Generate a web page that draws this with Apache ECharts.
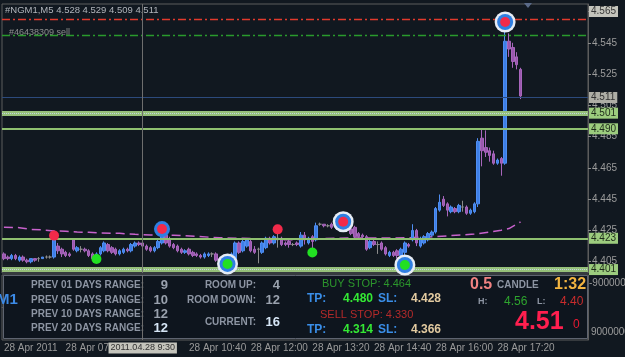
<!DOCTYPE html>
<html>
<head>
<meta charset="utf-8">
<script src="https://cdn.jsdelivr.net/npm/echarts@6/dist/echarts.min.js"></script>
<style>
html,body{margin:0;padding:0;background:#111820;}
#container{width:625px;height:357px;}
</style>
</head>
<body>
<div id="container"></div>
<script>
// NGM1 M5 bars: [open, close, low, high]
var candles = [
  [4.410,4.407,4.406,4.411],[4.408,4.407,4.406,4.409],[4.407,4.409,4.406,4.410],[4.409,4.407,4.406,4.410],
  [4.406,4.408,4.405,4.409],[4.408,4.406,4.405,4.409],[4.406,4.405,4.404,4.407],[4.405,4.407,4.404,4.407],
  [4.407,4.406,4.405,4.407],[4.407,4.407,4.405,4.408],[4.407,4.408,4.407,4.408],[4.408,4.408,4.407,4.409],
  [4.408,4.408,4.407,4.409],[4.408,4.421,4.407,4.423],[4.415,4.412,4.410,4.417],[4.413,4.410,4.408,4.414],
  [4.411,4.409,4.408,4.412],[4.410,4.409,4.408,4.411],[4.419,4.413,4.412,4.420],[4.412,4.414,4.411,4.415],
  [4.413,4.413,4.411,4.415],[4.413,4.412,4.411,4.414],[4.412,4.409,4.408,4.413],[4.410,4.407,4.406,4.411],
  [4.407,4.410,4.407,4.411],[4.410,4.414,4.409,4.415],[4.412,4.417,4.411,4.418],[4.416,4.412,4.411,4.417],
  [4.414,4.411,4.410,4.415],[4.413,4.410,4.409,4.414],[4.410,4.412,4.409,4.413],[4.411,4.413,4.410,4.414],
  [4.413,4.412,4.411,4.414],[4.412,4.416,4.411,4.417],[4.415,4.417,4.414,4.418],[4.417,4.416,4.415,4.418],
  [4.417,4.415,4.414,4.418],[4.415,4.413,4.412,4.416],[4.414,4.412,4.411,4.415],[4.412,4.414,4.411,4.415],
  [4.414,4.418,4.413,4.419],[4.417,4.424,4.416,4.426],[4.422,4.417,4.416,4.424],[4.419,4.415,4.414,4.421],
  [4.416,4.414,4.413,4.417],[4.415,4.412,4.411,4.416],[4.413,4.411,4.410,4.414],[4.411,4.412,4.410,4.413],
  [4.413,4.410,4.409,4.414],[4.411,4.409,4.408,4.412],[4.410,4.409,4.408,4.411],[4.409,4.408,4.407,4.410],
  [4.408,4.410,4.407,4.411],[4.409,4.410,4.408,4.411],[4.410,4.410,4.408,4.411],[4.410,4.406,4.405,4.411],
  [4.407,4.405,4.404,4.408],[4.405,4.407,4.404,4.408],[4.405,4.408,4.404,4.409],[4.407,4.410,4.406,4.411],
  [4.406,4.417,4.405,4.418],[4.417,4.411,4.410,4.418],[4.412,4.418,4.411,4.419],[4.415,4.419,4.414,4.420],
  [4.418,4.412,4.411,4.419],[4.413,4.411,4.410,4.415],[4.413,4.413,4.404,4.414],[4.411,4.417,4.410,4.418],
  [4.414,4.420,4.413,4.421],[4.420,4.417,4.416,4.421],[4.417,4.421,4.416,4.422],[4.420,4.420,4.414,4.424],
  [4.420,4.416,4.415,4.421],[4.417,4.416,4.415,4.418],[4.418,4.416,4.414,4.419],[4.416,4.416,4.415,4.417],
  [4.417,4.416,4.415,4.418],[4.415,4.422,4.414,4.424],[4.422,4.419,4.416,4.424],[4.417,4.420,4.416,4.421],
  [4.421,4.418,4.412,4.422],[4.419,4.428,4.418,4.430],[4.429,4.429,4.428,4.430],[4.429,4.428,4.427,4.429],
  [4.428,4.428,4.427,4.429],[4.429,4.427,4.426,4.430],[4.427,4.429,4.426,4.430],[4.429,4.431,4.428,4.432],
  [4.430,4.429,4.427,4.432],[4.429,4.425,4.424,4.430],[4.426,4.423,4.422,4.427],[4.427,4.421,4.420,4.428],
  [4.423,4.421,4.420,4.424],[4.422,4.421,4.420,4.423],[4.421,4.413,4.412,4.422],[4.414,4.418,4.413,4.419],
  [4.418,4.416,4.415,4.419],[4.416,4.416,4.410,4.418],[4.417,4.413,4.412,4.418],[4.414,4.410,4.409,4.415],
  [4.409,4.411,4.408,4.412],[4.411,4.409,4.408,4.412],[4.412,4.409,4.407,4.413],[4.409,4.413,4.407,4.414],
  [4.411,4.417,4.405,4.418],[4.416,4.415,4.414,4.417],[4.419,4.425,4.418,4.429],[4.425,4.417,4.415,4.426],
  [4.415,4.420,4.414,4.421],[4.417,4.421,4.416,4.422],[4.419,4.423,4.418,4.424],[4.422,4.424,4.421,4.425],
  [4.424,4.439,4.423,4.440],[4.438,4.443,4.437,4.448],[4.445,4.441,4.440,4.447],[4.442,4.438,4.434,4.443],
  [4.437,4.440,4.436,4.441],[4.439,4.437,4.436,4.440],[4.437,4.441,4.436,4.442],[4.440,4.440,4.437,4.444],
  [4.440,4.436,4.435,4.441],[4.436,4.438,4.435,4.439],[4.437,4.442,4.436,4.443],[4.442,4.482,4.440,4.484],
  [4.484,4.476,4.466,4.490],[4.478,4.475,4.472,4.489],[4.476,4.473,4.469,4.478],[4.474,4.468,4.467,4.476],
  [4.468,4.470,4.467,4.471],[4.471,4.468,4.460,4.472],[4.468,4.546,4.467,4.559],[4.546,4.541,4.536,4.551],
  [4.542,4.533,4.529,4.545],[4.536,4.531,4.528,4.539],[4.528,4.511,4.509,4.529]
];
var barSlots = 152;

// moving average: [bar, price]
var maPoints = [
  [0,4.4270],[4,4.4268],[7,4.4256],[10,4.4254],[13,4.4247],[16,4.4245],[19,4.4240],[22,4.4238],
  [25,4.4234],[30,4.4232],[34,4.4225],[38,4.4221],[44,4.4220],[50,4.4212],[56,4.4203],[62,4.4200],
  [68,4.4195],[74,4.4190],[80,4.4196],[86,4.4200],[92,4.4202],[98,4.4201],[104,4.4203],[110,4.4208],
  [116,4.4217],[122,4.4227],[126,4.4240],[129,4.4252],[131,4.4262],[133,4.4291],[134,4.4304]
];

// signal markers: [bar, price]
var ringRed = [[130,4.5583],[88,4.4306]];
var ringBlueRed = [[41,4.4259]];
var ringGreen = [[58,4.4036],[104,4.4029]];
var redDots = [[13,4.4217],[71,4.4257]];
var greenDots = [[24,4.4068],[80,4.4109]];

// horizontal levels
var sellLevel = 4.5615, orderLevel = 4.5468, bidLevel = 4.511;
var bandLevels = [4.501, 4.401];
var thinLevels = [4.490, 4.423];
var crossPrice = 4.565, crossBar = 36, crossTime = '2011.04.28 9:30';

var priceMin = 4.3978, priceMax = 4.5698;
var priceTicks = [4.405,4.425,4.445,4.465,4.485,4.505,4.525,4.545,4.565];
var subTicks = [-9000000, 9000000];
var timeTickIdx = [0,16,32,48,64,80,96,112,128];
var timeTickText = ['28 Apr 2011','28 Apr 07:50','','28 Apr 10:40','28 Apr 12:00','28 Apr 13:20','28 Apr 14:40','28 Apr 16:00','28 Apr 17:20'];

// info panel
var rangeLabels = ['PREV 01 DAYS RANGE:','PREV 05 DAYS RANGE:','PREV 10 DAYS RANGE:','PREV 20 DAYS RANGE:'];
var rangeValues = [9, 10, 12, 12];
var roomLabels = ['ROOM UP:','ROOM DOWN:','CURRENT:'];
var roomValues = [4, 12, 16];
var buyStop = [4.464, 4.480, 4.428];   // stop, tp, sl
var sellStop = [4.330, 4.314, 4.366];
var spread = '0.5', candleLeft = '1:32', dayHigh = '4.56', dayLow = '4.40', lastBig = '4.51', lastDigit = '0';

var FONT = '"Liberation Sans", Arial, sans-serif';
var cats = [];
for (var i = 0; i < barSlots; i++) cats.push(String(i));

function txt(s, x, y, fill, font, align) {
  return {type:'text', z:5, x:x, y:y,
    style:{text:s, fill:fill, font:font + ' ' + FONT, textAlign:align || 'left', textVerticalAlign:'middle'}};
}
function hLine(v, color, width, type, lbl, lblBg, lblColor) {
  var d = {yAxis:v, lineStyle:{color:color, width:width, type:type, opacity:1}, label:{show:false}};
  if (lbl) d.label = {show:true, position:'end', formatter:lbl, distance:1, color:lblColor || '#1e2a1a',
    backgroundColor:lblBg, padding:[1,2,0,2], fontSize:10, fontFamily:FONT};
  return d;
}

var last = candles[candles.length - 1];
var gray = '#8d95a3';
var graphics = [
  {type:'rect', z:1, shape:{x:3.5, y:275.5, width:584, height:63}, style:{fill:'#0e151e', stroke:'#5e6470', lineWidth:1}},
  {type:'polygon', z:5, shape:{points:[[524,3],[532,3],[528,8]]}, style:{fill:'#5a6a88'}},
  txt('#NGM1,M5 ' + [last[0], last[3], last[2], last[1]].map(function (v) { return v.toFixed(3); }).join(' '), 5, 10, '#b0b4ba', '9.5px'),
  txt('#46438309 sell', 9, 33, '#8e8e8e', '9px'),
  txt('M1', -3, 300, '#3c8ae6', 'bold 15px')
];
var rowY = [285, 300, 314, 328];
rangeLabels.forEach(function (s, k) {
  graphics.push(txt(s, 31, rowY[k], gray, 'bold 10px'));
  graphics.push(txt(String(rangeValues[k]), 168, rowY[k], k === 3 ? '#d6e6f6' : '#9aa2ae', 'bold 13px', 'right'));
});
var roomY = [285, 300, 322];
roomLabels.forEach(function (s, k) {
  graphics.push(txt(s, 256, roomY[k], gray, 'bold 10px', 'right'));
  graphics.push(txt(String(roomValues[k]), 280, roomY[k], k === 2 ? '#d6e6f6' : '#9aa2ae', 'bold 13px', 'right'));
});
[[buyStop, 'BUY STOP: ', '#2c962c', 284, 299, 322], [sellStop, 'SELL STOP: ', '#b42a2a', 315, 329.5, 320]].forEach(function (r) {
  graphics.push(txt(r[1] + r[0][0].toFixed(3), r[5], r[3], r[2], '11px'));
  graphics.push(txt('TP:', 307, r[4], '#3a8ee8', 'bold 12px'));
  graphics.push(txt(r[0][1].toFixed(3), 343, r[4], '#34e834', 'bold 12px'));
  graphics.push(txt('SL:', 378, r[4], '#3a8ee8', 'bold 12px'));
  graphics.push(txt(r[0][2].toFixed(3), 411, r[4], '#e2caa0', 'bold 12px'));
});
graphics.push(
  txt(spread, 470, 285, '#f08282', 'bold 16px'),
  txt('CANDLE', 497, 285, gray, 'bold 10px'),
  txt(candleLeft, 554, 285, '#f2b440', 'bold 16px'),
  txt('H:', 478, 302, gray, 'bold 9px'),
  txt(dayHigh, 504, 302, '#2ea42e', '12px'),
  txt('L:', 537, 302, gray, 'bold 9px'),
  txt(dayLow, 560, 302, '#c82c2c', '12px'),
  txt(lastBig, 515, 322, '#ff1f4f', 'bold 25px'),
  txt(lastDigit, 573, 325, '#e81a32', '12px')
);

var dom = document.getElementById('container');
var myChart = echarts.init(dom, null, {renderer:'canvas'});

var markLines = [
  hLine(sellLevel, '#e23a2c', 1.3, [8,3,2,3]),
  hLine(orderLevel, '#2a9a2c', 1.3, [8,3,2,3]),
  hLine(bidLevel, '#2c4a7c', 1, 'solid', bidLevel.toFixed(3), '#aeaea6', '#303030'),
  hLine(bandLevels[0], '#96c07a', 5, 'solid', bandLevels[0].toFixed(3), '#9ccc7e'),
  hLine(bandLevels[0], '#c0d4e2', 1, 'dotted'),
  hLine(bandLevels[1], '#96c07a', 5, 'solid', bandLevels[1].toFixed(3), '#9ccc7e'),
  hLine(bandLevels[1], '#c0d4e2', 1, 'dotted'),
  hLine(thinLevels[0], '#8fc070', 2, 'solid', thinLevels[0].toFixed(3), '#9ccc7e'),
  hLine(thinLevels[1], '#8fc070', 2, 'solid', thinLevels[1].toFixed(3), '#9ccc7e'),
  hLine(crossPrice, '#747474', 1, 'solid'),
  {xAxis:crossBar, lineStyle:{color:'#6e6e6e', width:1, type:'solid'}, label:{show:false}}
];

var option = {
  backgroundColor:'#111820',
  animation:false,
  textStyle:{fontFamily:FONT},
  grid:[
    {left:2, right:37, top:4, height:269, show:true, borderColor:'#5c5c5c', backgroundColor:'transparent'},
    {left:2, right:37, top:275, height:65, show:true, borderColor:'#5c5c5c', backgroundColor:'transparent'}
  ],
  xAxis:[
    {gridIndex:0, type:'category', data:cats, boundaryGap:true, show:false},
    {gridIndex:1, type:'category', data:cats, boundaryGap:true,
      axisLine:{show:true, lineStyle:{color:'#5c5c5c'}},
      axisTick:{show:true, alignWithLabel:true, length:3, lineStyle:{color:'#8a8a8a'},
        interval:function (idx) { return timeTickIdx.indexOf(idx) >= 0; }},
      axisLabel:{interval:0, align:'left', margin:3, color:'#9a9a9a', fontSize:10,
        formatter:function (v, idx) { var k = timeTickIdx.indexOf(idx); return k >= 0 ? timeTickText[k] : ''; }},
      splitLine:{show:false}}
  ],
  yAxis:[
    {gridIndex:0, type:'value', position:'right', min:priceMin, max:priceMax,
      axisLine:{show:true, lineStyle:{color:'#5c5c5c'}},
      axisTick:{show:true, length:3, customValues:priceTicks, lineStyle:{color:'#8a8a8a'}},
      axisLabel:{customValues:priceTicks, color:'#9c9c9c', fontSize:10, margin:4,
        formatter:function (v) { return v.toFixed(3); }},
      splitLine:{show:false}},
    {gridIndex:1, type:'value', position:'right', inverse:true, min:-12000000, max:12000000,
      axisLine:{show:true, lineStyle:{color:'#5c5c5c'}},
      axisTick:{show:false}, axisLabel:{show:false}, splitLine:{show:false}}
  ],
  series:[
    {type:'line', name:'MA', xAxisIndex:0, yAxisIndex:0, data:maPoints, symbol:'none', z:1,
      lineStyle:{color:'#c862cc', width:1.5, type:[9,5]}},
    {type:'candlestick', xAxisIndex:0, yAxisIndex:0, data:candles, barWidth:3, z:3,
      itemStyle:{color:'#3d7ee6', color0:'#9a58ae', borderColor:'#4f8ef2', borderColor0:'#a866bc',
        borderColorDoji:'#8c8c8c', borderWidth:1},
      markLine:{silent:true, symbol:['none','none'], animation:false, data:markLines}},
    {type:'scatter', xAxisIndex:0, yAxisIndex:0, data:ringRed.concat(ringGreen), symbolSize:21, z:6,
      itemStyle:{color:'#e6ecf5', opacity:1}},
    {type:'scatter', xAxisIndex:0, yAxisIndex:0, data:ringRed.concat(ringGreen, ringBlueRed), symbolSize:16, z:7,
      itemStyle:{color:'#2f7fe2', opacity:1}},
    {type:'scatter', xAxisIndex:0, yAxisIndex:0, data:ringRed.concat(ringBlueRed, redDots), symbolSize:10, z:8,
      itemStyle:{color:'#f22a4a', opacity:1}},
    {type:'scatter', xAxisIndex:0, yAxisIndex:0, data:ringGreen.concat(greenDots), symbolSize:10, z:8,
      itemStyle:{color:'#22e022', opacity:1}},
    {type:'line', xAxisIndex:1, yAxisIndex:1, data:[], z:4,
      markLine:{silent:true, symbol:['none','none'], animation:false,
        data:[{xAxis:crossBar, lineStyle:{color:'#6e6e6e', width:1, type:'solid'}, label:{show:false}}]}}
  ],
  graphic:graphics
};

if (option && typeof option === 'object') {
  myChart.setOption(option, false);
}

// crosshair readouts and the sub-window scale labels, placed through the axes
var cx = myChart.convertToPixel({xAxisIndex:1}, crossBar);
var cy = myChart.convertToPixel({yAxisIndex:0}, crossPrice);
graphics.push({type:'text', z:20, x:cx, y:348,
  style:{text:crossTime, fill:'#303030', font:'9px ' + FONT, textAlign:'center', textVerticalAlign:'middle',
    backgroundColor:'#c4c4bc', padding:[1,2]}});
graphics.push({type:'text', z:20, x:589, y:cy,
  style:{text:crossPrice.toFixed(3), fill:'#383838', font:'10px ' + FONT, textAlign:'left', textVerticalAlign:'middle',
    backgroundColor:'#c4c4bc', padding:[1,2,0,2]}});
subTicks.forEach(function (v) {
  var sy = myChart.convertToPixel({yAxisIndex:1}, v);
  graphics.push({type:'text', z:20, x:v < 0 ? 589 : 591, y:sy,
    style:{text:String(v), fill:'#9c9c9c', font:'10px ' + FONT, textAlign:'left', textVerticalAlign:'middle'}});
});
myChart.setOption({graphic:graphics});
</script>
</body>
</html>
